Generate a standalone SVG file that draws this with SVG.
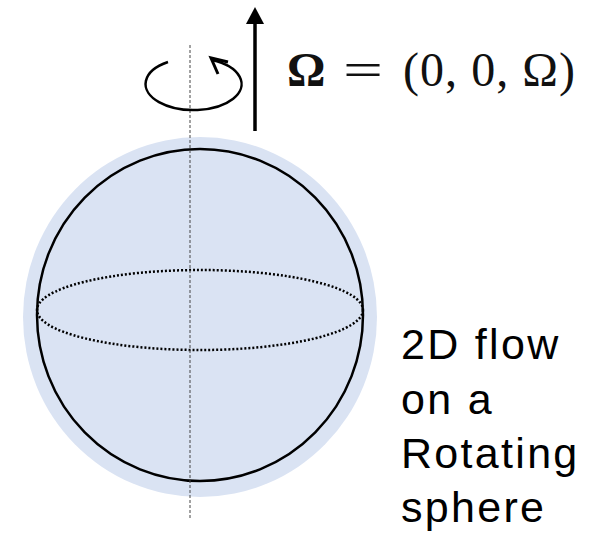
<svg xmlns="http://www.w3.org/2000/svg" width="598" height="536" viewBox="0 0 598 536">
<style>
.lbl{font-family:"Liberation Sans",Arial,sans-serif;font-size:43px;fill:#000;letter-spacing:2.3px}
.math{font-family:"Liberation Serif","DejaVu Serif",serif;font-size:48px;fill:#111}
</style>
<rect width="598" height="536" fill="#fff"/>
<g id="sphere">
<ellipse cx="200" cy="317" rx="177" ry="180" fill="#dae3f3"/>
<ellipse cx="200" cy="315" rx="163" ry="166" fill="none" stroke="#000" stroke-width="2.5"/>
<ellipse cx="200" cy="310" rx="163" ry="40" fill="none" stroke="#000" stroke-width="2.5" stroke-dasharray="2 2"/>
</g>
<g id="axis">
<line x1="190" y1="45" x2="190" y2="518" stroke="#444" stroke-width="1" stroke-dasharray="3 2"/>
</g>
<g id="rotation">
<path d="M168,62 A48,26 0 1,0 212,60" fill="none" stroke="#000" stroke-width="2.5"/>
<path d="M228,62 L211,58 L218,74" fill="none" stroke="#000" stroke-width="3" stroke-linejoin="miter"/>
</g>
<g id="omega-arrow">
<line x1="255" y1="131" x2="255" y2="20" stroke="#000" stroke-width="3.5"/>
<path d="M246,24 L255,7 L264,24 Z" fill="#000"/>
</g>
<g id="omega-label">
<text x="287" y="86" class="math" font-weight="bold">Ω</text>
<text x="343" y="86" class="math" textLength="40" lengthAdjust="spacingAndGlyphs">=</text>
<text x="403" y="86" class="math" textLength="172" lengthAdjust="spacing">(0, 0, Ω)</text>
</g>
<g id="caption">
<text class="lbl" x="401" y="359">2D flow</text>
<text class="lbl" x="401" y="414">on a</text>
<text class="lbl" x="401" y="468">Rotating</text>
<text class="lbl" x="401" y="522">sphere</text>
</g>
</svg>
